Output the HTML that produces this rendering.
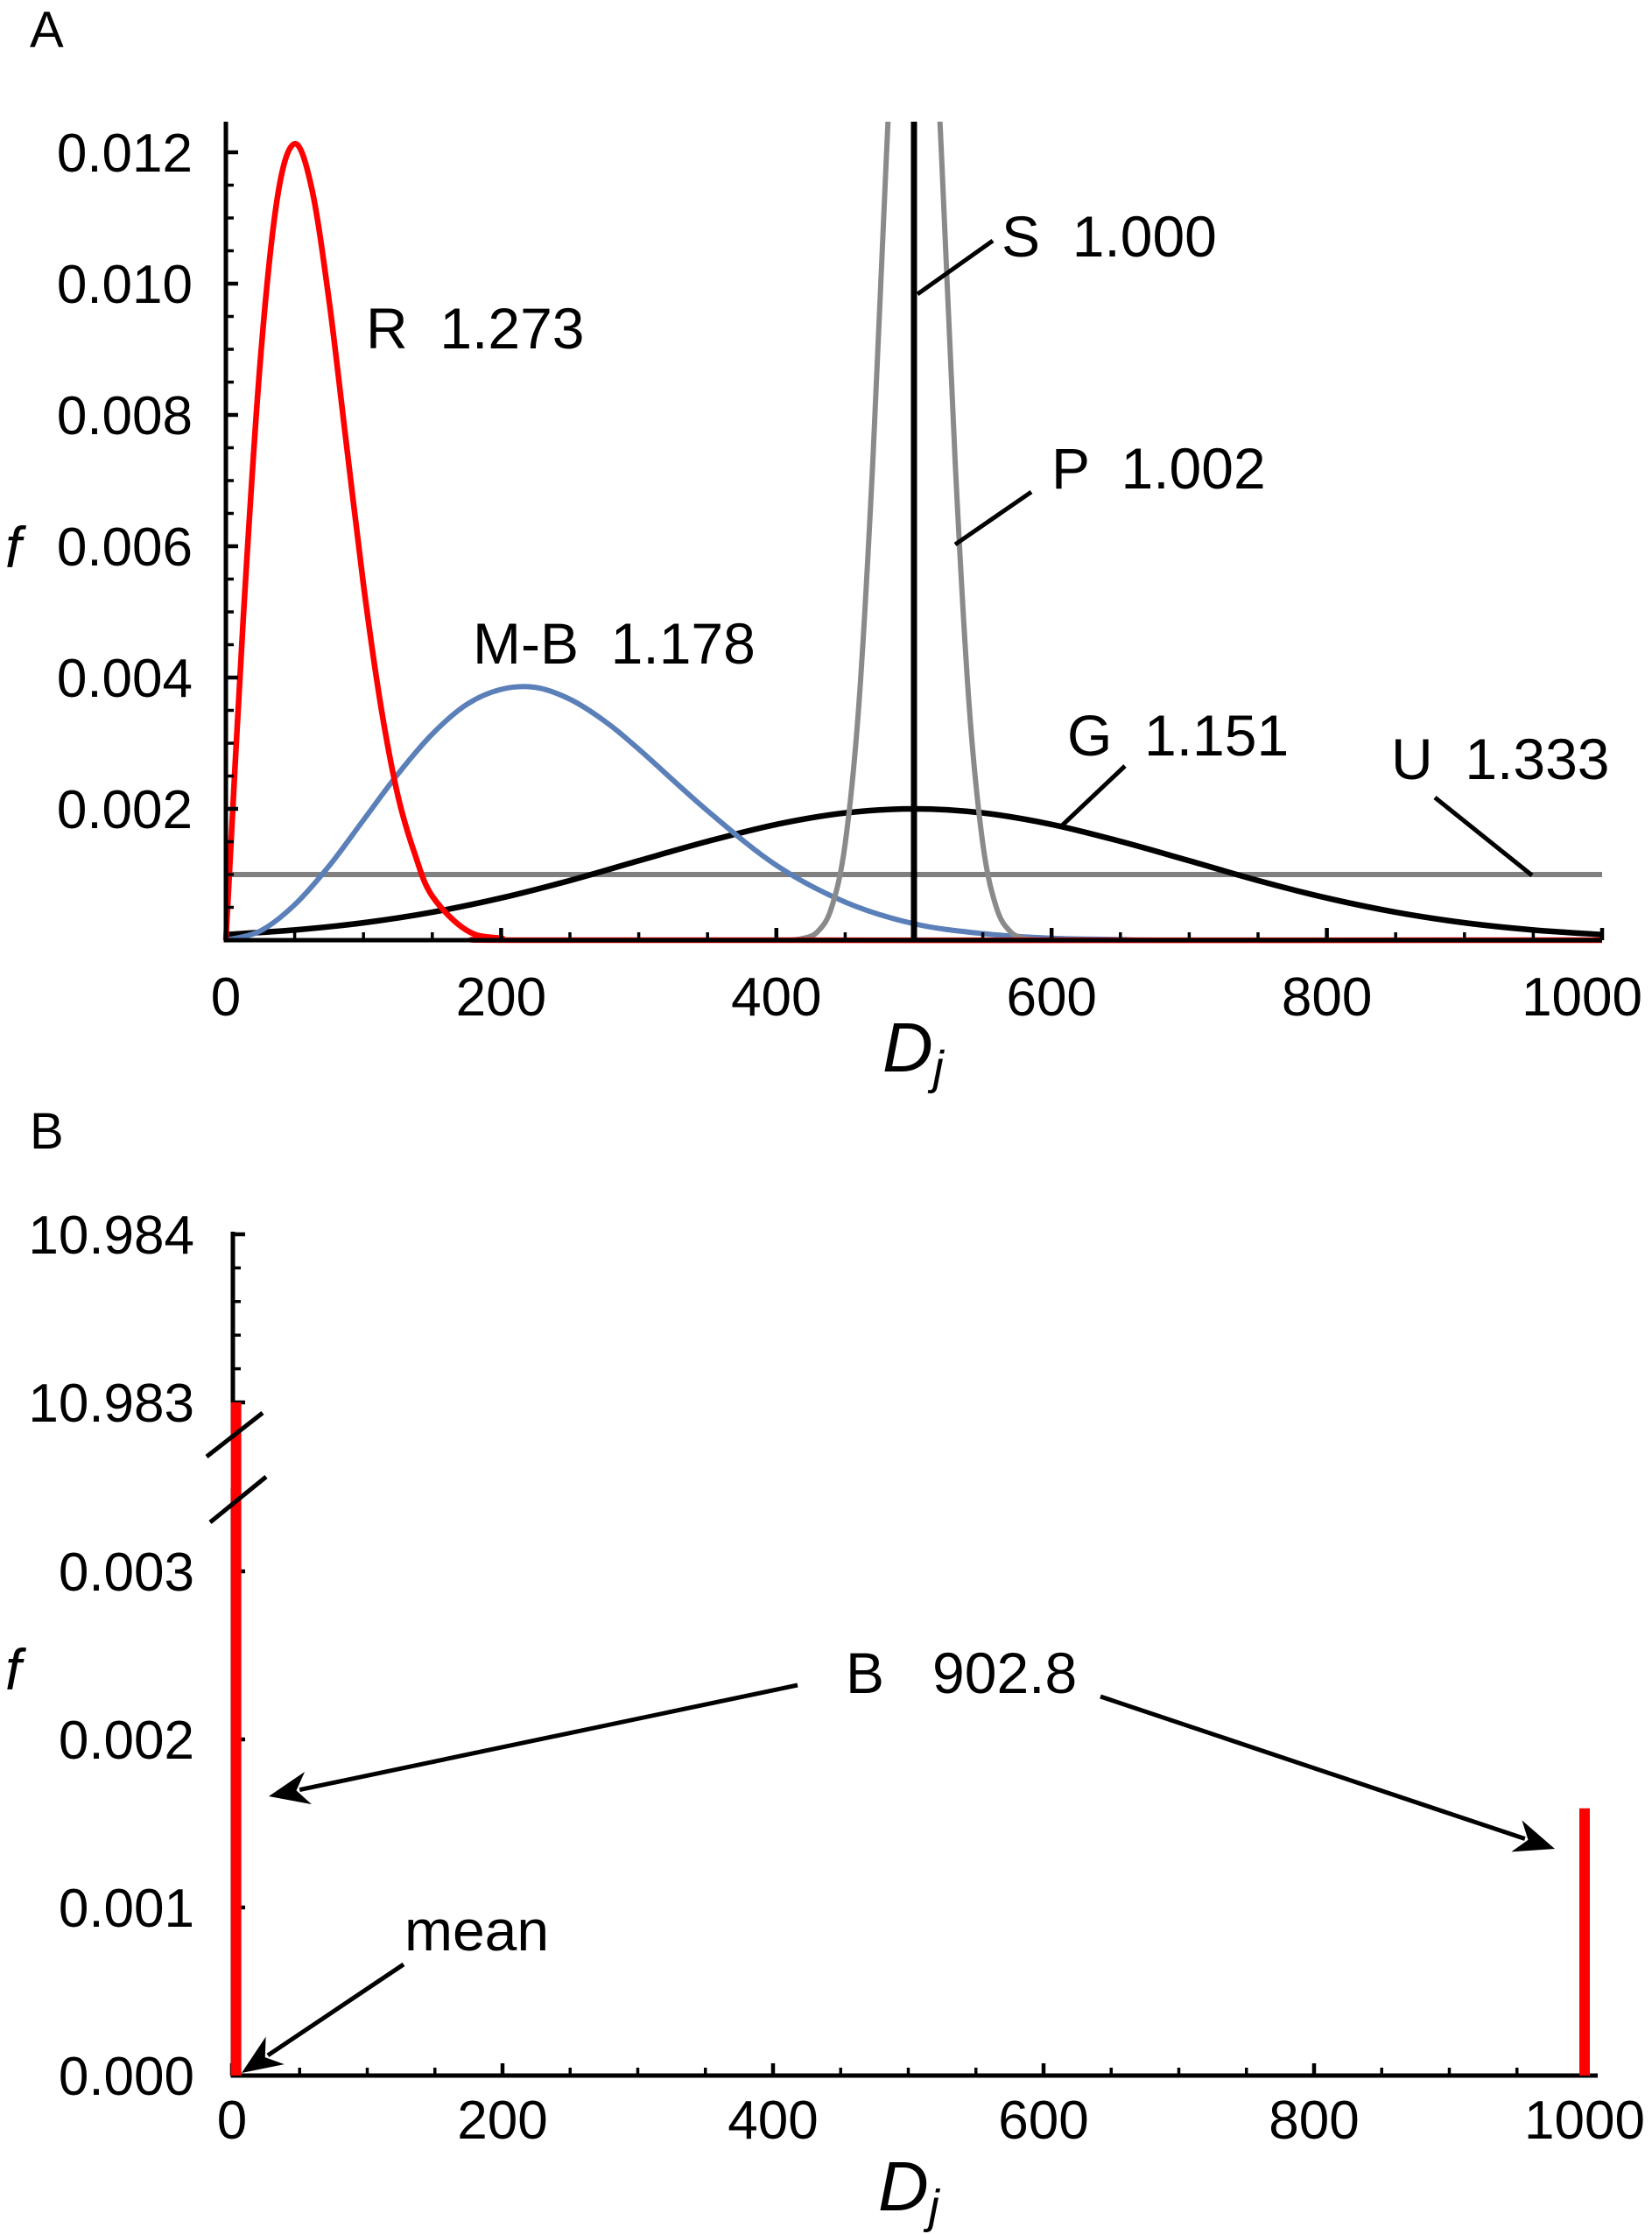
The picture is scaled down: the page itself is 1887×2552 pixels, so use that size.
<!DOCTYPE html>
<html><head><meta charset="utf-8"><style>
html,body{margin:0;padding:0;background:#fff}
svg{display:block}
text{font-family:"Liberation Sans",sans-serif;fill:#000;white-space:pre}
</style></head><body>
<svg id="chart" width="1887" height="2552" viewBox="0 0 1887 2552" xmlns="http://www.w3.org/2000/svg">
<defs><clipPath id="clipA"><rect x="250" y="139" width="1600" height="940"/></clipPath></defs>
<g id="panelA"></g>
<g id="panelB"></g>
</svg>
<script>
// ---------- Panel A data ----------
const rX = [0,12.5,25,37.5,50,62.5,75,87.5,100,112.5,125,137.5,150,175,200,250,1000];
const rY = [0,0.00485,0.00882,0.01132,0.01213,0.01144,0.00974,0.00757,0.00541,0.00358,0.0022,0.0013,0.00067,0.00015,0.00003,0,0];
const mbX = [0,25,50,75,100,125,150,175,200,225,250,275,300,350,400,450,500,550,600,650,700,1000];
const mbY = [0,0.00014,0.00054,0.00113,0.00183,0.00253,0.00314,0.00359,0.00382,0.00385,0.00367,0.00334,0.00291,0.00197,0.00114,0.00058,0.00025,0.0001,0.00003,0.00001,0,0];
const gX = [0,50,100,150,200,250,300,350,400,450,500,550,600,650,700,750,800,850,900,950,1000];
const gY = [0.000085,0.000155,0.000265,0.000426,0.000642,0.000909,0.00121,0.001505,0.001763,0.001938,0.002,0.001938,0.001763,0.001505,0.00121,0.000909,0.000642,0.000426,0.000265,0.000155,0.000085];
const pX = [410,420,430,440,450,460,470,480,490,500,510,520,530,540,550,560,570,580,590];
const pY = [0,0.00003,0.00013,0.00049,0.00147,0.0036,0.00725,0.01196,0.01614,0.01784,0.01614,0.01196,0.00725,0.0036,0.00147,0.00049,0.00013,0.00003,0];
const sX = [500];
const uX = [0,1000];
const uY = [0.001,0.001];
const aXTicks = [0,200,400,600,800,1000];
const aXTickLabels = ["0","200","400","600","800","1000"];
const aYTicks = [0.002,0.004,0.006,0.008,0.010,0.012];
const aYTickLabels = ["0.002","0.004","0.006","0.008","0.010","0.012"];
// ---------- Panel B data ----------
const bBarX = [3,1000];
const bBarY = [10.983,0.00159];
const bYTicksLow = [0,0.001,0.002,0.003];
const bYTickLabelsLow = ["0.000","0.001","0.002","0.003"];
const bYTicksHigh = [10.983,10.984];
const bYTickLabelsHigh = ["10.983","10.984"];
const bXTicks = [0,200,400,600,800,1000];
const bXTickLabels = ["0","200","400","600","800","1000"];

const NS="http://www.w3.org/2000/svg";
function mk(parent,tag,attrs,txt){const e=document.createElementNS(NS,tag);for(const k in attrs)e.setAttribute(k,attrs[k]);if(txt!==undefined)e.textContent=txt;parent.appendChild(e);return e;}
function smooth(pts){let d=`M${pts[0][0]},${pts[0][1]}`;for(let i=0;i<pts.length-1;i++){const p0=pts[Math.max(0,i-1)],p1=pts[i],p2=pts[i+1],p3=pts[Math.min(pts.length-1,i+2)];const c1=[p1[0]+(p2[0]-p0[0])/6,p1[1]+(p2[1]-p0[1])/6],c2=[p2[0]-(p3[0]-p1[0])/6,p2[1]-(p3[1]-p1[1])/6];d+=`C${c1[0]},${c1[1]} ${c2[0]},${c2[1]} ${p2[0]},${p2[1]}`;}return d;}
const TF=62, AF=66;

// ---------- Panel A ----------
const A=document.getElementById('panelA');
const xA=v=>258+v*1.572, yA=v=>1074-v*75000;
let t=mk(A,'text',{x:34,y:54,'font-size':58});t.textContent='A';


const curvesA=mk(A,'g',{'clip-path':'url(#clipA)'});


function series(xs,ys,color,w,name){const p=mk(curvesA,'path',{d:smooth(xs.map((x,i)=>[xA(x),yA(ys[i])])),fill:'none',stroke:color,'stroke-width':w,'stroke-linejoin':'round'});

}
let u=mk(curvesA,'line',{x1:xA(uX[0]),y1:yA(uY[0]),x2:xA(uX[1]),y2:yA(uY[1]),stroke:'#808080','stroke-width':6});


series(gX,gY,'#000',6.5,'g-curve');
series(mbX,mbY,'#5b80b9',6,'mb-curve');
series(pX,pY,'#8a8a8a',6,'p-curve');
series(rX,rY,'#ff0000',6.5,'r-curve');
let s=mk(curvesA,'line',{x1:xA(sX[0]),y1:yA(0),x2:xA(sX[0]),y2:120,stroke:'#000','stroke-width':7});


// axes A
let ax=mk(A,'path',{d:`M258,139 L258,1074 L1830,1074`,fill:'none',stroke:'#000','stroke-width':5});


for(let v=0;v<=1000;v+=50){const maj=v%200===0;const l=mk(A,'line',{x1:xA(v),x2:xA(v),y1:1074,y2:1074-(maj?14:9),stroke:'#000','stroke-width':maj?4.5:3.5});

}
for(let k=1;k<=24;k++){const v=k*0.0005;const maj=k%4===0;const l=mk(A,'line',{x1:258,x2:258+(maj?14:9),y1:yA(v),y2:yA(v),stroke:'#000','stroke-width':maj?4.5:3.5});

}
aXTicks.forEach((v,i)=>{const last=i===aXTicks.length-1;const e=mk(A,'text',{x:last?1876:xA(v),y:1160,'font-size':TF,'text-anchor':last?'end':'middle'},aXTickLabels[i]);

});
aYTicks.forEach((v,i)=>{const e=mk(A,'text',{x:220,y:yA(v)+22,'font-size':TF,'text-anchor':'end'},aYTickLabels[i]);

});
t=mk(A,'text',{x:6,y:648,'font-size':66,'font-style':'italic'},'f');


t=mk(A,'text',{x:1008,y:1224,'font-size':80,'font-style':'italic'});t.innerHTML='D<tspan font-size="54" dy="14">j</tspan>';


const labelsA=[["R  1.273",418,398],["M-B  1.178",540,758],["S  1.000",1144,293],["P  1.002",1201,558],["G  1.151",1219,863],["U  1.333",1589,890]];
labelsA.forEach(L=>{const e=mk(A,'text',{x:L[1],y:L[2],'font-size':AF},L[0]);

});
[[1048,336,1134,275],[1091,622,1178,562],[1212,944,1285,875],[1639,911,1750,1000]].forEach(l=>{const e=mk(A,'line',{x1:l[0],y1:l[1],x2:l[2],y2:l[3],stroke:'#000','stroke-width':5});

});

// ---------- Panel B ----------
const B=document.getElementById('panelB');
const xB=v=>265+v*1.545;
const yB=v=>v>5?1602-(v-10.983)*192000:2371-v*192000;
t=mk(B,'text',{x:34,y:1312,'font-size':58},'B');


let axb=mk(B,'path',{d:`M266,1407 L266,1640 M266,1700 L266,2371 L1825,2371`,fill:'none',stroke:'#000','stroke-width':5});


for(let v=0;v<=1000;v+=50){const maj=v%200===0;const l=mk(B,'line',{x1:xB(v),x2:xB(v),y1:2371,y2:2371-(maj?14:9),stroke:'#000','stroke-width':maj?4.5:3.5});

}
for(let k=1;k<=17;k++){const v=k*0.0002;const maj=k%5===0;const l=mk(B,'line',{x1:266,x2:266+(maj?14:9),y1:yB(v),y2:yB(v),stroke:'#000','stroke-width':maj?4.5:3.5});

}
for(let k=0;k<=5;k++){const v=10.983+k*0.0002;const maj=k%5===0;const l=mk(B,'line',{x1:266,x2:266+(maj?14:9),y1:yB(v),y2:yB(v),stroke:'#000','stroke-width':maj?4.5:3.5});

}
bBarX.forEach((x,i)=>{const top=yB(bBarY[i]);const r=mk(B,'rect',{x:xB(x)-6,y:top,width:12,height:2371-top,fill:'#ff0000'});

});
[[236,1664,300,1614],[240,1739,304,1687]].forEach(l=>{const e=mk(B,'line',{x1:l[0],y1:l[1],x2:l[2],y2:l[3],stroke:'#000','stroke-width':5});

});
bXTicks.forEach((v,i)=>{const e=mk(B,'text',{x:xB(v),y:2443,'font-size':TF,'text-anchor':'middle'},bXTickLabels[i]);

});
bYTicksLow.forEach((v,i)=>{const e=mk(B,'text',{x:222,y:yB(v)+22,'font-size':TF,'text-anchor':'end'},bYTickLabelsLow[i]);

});
bYTicksHigh.forEach((v,i)=>{const e=mk(B,'text',{x:222,y:yB(v)+22,'font-size':TF,'text-anchor':'end'},bYTickLabelsHigh[i]);

});
t=mk(B,'text',{x:6,y:1930,'font-size':66,'font-style':'italic'},'f');


t=mk(B,'text',{x:1003,y:2525,'font-size':80,'font-style':'italic'});t.innerHTML='D<tspan font-size="54" dy="14">j</tspan>';


t=mk(B,'text',{x:966,y:1934,'font-size':AF},'B   902.8');


t=mk(B,'text',{x:462,y:2228,'font-size':AF},'mean');


function arrow(x1,y1,x2,y2,name){const a=Math.atan2(y2-y1,x2-x1),L=46,W=19;const bx=x2-L*Math.cos(a),by=y2-L*Math.sin(a);
const ln=mk(B,'line',{x1,y1,x2:bx+10*Math.cos(a),y2:by+10*Math.sin(a),stroke:'#000','stroke-width':5});


const px=-Math.sin(a),py=Math.cos(a);const mx=x2-L*0.7*Math.cos(a),my=y2-L*0.7*Math.sin(a);
const h=mk(B,'path',{d:`M${x2},${y2} L${bx+W*px},${by+W*py} L${mx},${my} L${bx-W*px},${by-W*py} Z`,fill:'#000'});

}
arrow(911,1925,307,2052,'arrow-b-left');
arrow(1257,1938,1776,2112,'arrow-b-right');
arrow(461,2244,276,2368,'arrow-mean');
</script>
</body></html>
